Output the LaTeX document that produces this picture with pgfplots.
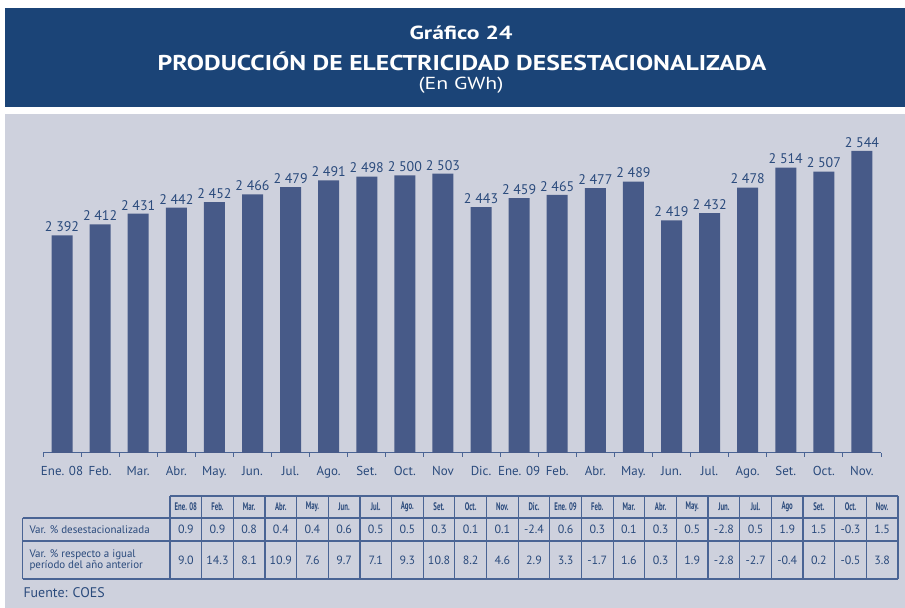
\documentclass[border=0pt]{standalone}
\usepackage{pgfplots}
\pgfplotsset{compat=1.18}
\usepackage{pgfplotstable}
\usepackage{fontspec}
\setmainfont{PT Sans}
\definecolor{hdr}{HTML}{1B4477}
\definecolor{panel}{HTML}{CED1DD}
\definecolor{barc}{HTML}{475A88}
\definecolor{txt}{HTML}{2A4A7C}
\definecolor{gridc}{HTML}{4A6494}

\pgfplotstableread{
x v
0 2392
1 2412
2 2431
3 2442
4 2452
5 2466
6 2479
7 2491
8 2498
9 2500
10 2503
11 2443
12 2459
13 2465
14 2477
15 2489
16 2419
17 2432
18 2478
19 2514
20 2507
21 2544
}\prod

\begin{document}
\begin{tikzpicture}[x=1bp,y=1bp]
\useasboundingbox (0,0) rectangle (905,608);
\fill[white] (0,0) rectangle (905,608);
\fill[hdr] (5,501) rectangle (905,600);
\fill[panel] (5,0) rectangle (905,494);
\node[white,font=\bfseries\fontsize{19}{20}\selectfont] at (461,575) {\scalebox{1.25}[1]{Gráfico 24}};
\node[white,font=\bfseries\fontsize{21.5}{22}\selectfont] at (462,547) {\scalebox{1.2}[1]{PRODUCCIÓN DE ELECTRICIDAD DESESTACIONALIZADA}};
\node[white,font=\fontsize{17.5}{18}\selectfont] at (461,523) {\scalebox{1.25}[1]{(En GWh)}};

\begin{axis}[at={(43bp,155bp)}, anchor=south west, scale only axis,
  width=838bp, height=322bp,
  xmin=-0.5, xmax=21.5, ymin=2000, ymax=2580,
  axis x line*=bottom, axis y line=none,
  axis line style={gridc, line width=1bp},
  ybar, bar width=21bp,
  xtick={0,...,21},
  xticklabels={Ene. 08,Feb.,Mar.,Abr.,May.,Jun.,Jul.,Ago.,Set.,Oct.,Nov,Dic.,Ene. 09,Feb.,Abr.,May.,Jun.,Jul.,Ago.,Set.,Oct.,Nov.},
  major tick length=0pt,
  minor xtick={-0.5,0.5,...,21.5},
  minor tick length=4bp,
  xtick align=outside,
  minor tick style={gridc, line width=1bp},
  x tick label style={font=\fontsize{13}{14}\selectfont, text=txt, yshift=-10bp},
  point meta=y,
  nodes near coords={\pgfmathprintnumber[1000 sep={\ },assume math mode=true]{\pgfplotspointmeta}},
  every node near coord/.append style={font=\fontsize{14}{15}\selectfont, text=txt},
  clip=false,
]
\addplot[fill=barc, draw=none] table[x=x,y=v] {\prod};
\end{axis}

% table
\def\cw{31.652}
\begin{scope}[draw=gridc, line width=1.2bp]
\draw (170,112) -- (898,112);
\draw (22.7,90) -- (898,90);
\draw (22.7,67) -- (898,67);
\draw (22.7,29) -- (898,29);
\draw (22.7,90) -- (22.7,29);
\foreach \i in {0,...,23} { \draw ({170+\cw*\i},112) -- ({170+\cw*\i},29); }
\end{scope}
\foreach \lab [count=\i from 0] in {Ene. 08,Feb.,Mar.,Abr.,May.,Jun.,Jul.,Ago.,Set.,Oct.,Nov.,Dic.,Ene. 09,Feb.,Mar.,Abr.,May.,Jun.,Jul.,Ago,Set.,Oct.,Nov.} {
  \node[text=txt, font=\bfseries\fontsize{11}{12}\selectfont] at ({170+\cw*(\i+0.5)},101) {\scalebox{0.62}[1]{\lab}};
}
\foreach \v [count=\i from 0] in {0.9,0.9,0.8,0.4,0.4,0.6,0.5,0.5,0.3,0.1,0.1,-2.4,0.6,0.3,0.1,0.3,0.5,-2.8,0.5,1.9,1.5,-0.3,1.5} {
  \node[text=txt, font=\fontsize{12}{13}\selectfont] at ({170+\cw*(\i+0.5)},78.5) {\v};
}
\foreach \v [count=\i from 0] in {9.0,14.3,8.1,10.9,7.6,9.7,7.1,9.3,10.8,8.2,4.6,2.9,3.3,-1.7,1.6,0.3,1.9,-2.8,-2.7,-0.4,0.2,-0.5,3.8} {
  \node[text=txt, font=\fontsize{12}{13}\selectfont] at ({170+\cw*(\i+0.5)},48) {\v};
}
\node[text=txt, font=\fontsize{11}{12}\selectfont, anchor=west] at (26,78.5) {Var. \% desestacionalizada};
\node[text=txt, font=\fontsize{11}{11.5}\selectfont, anchor=west, align=left] at (26,48) {Var. \% respecto a igual\\período del año anterior};
\node[text=txt, font=\fontsize{14}{15}\selectfont, anchor=west] at (20,15) {Fuente: COES};
\end{tikzpicture}
\end{document}
